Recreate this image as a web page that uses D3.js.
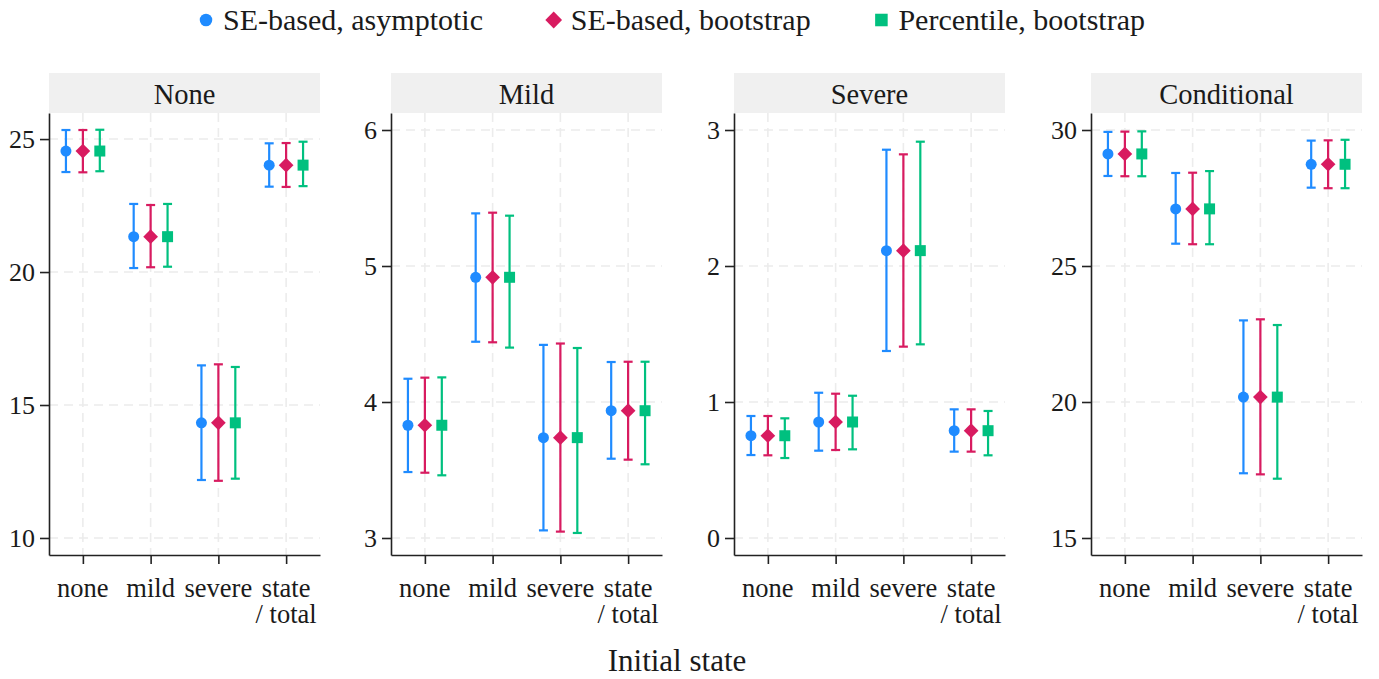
<!DOCTYPE html>
<html>
<head>
<meta charset="utf-8">
<script src="https://cdn.jsdelivr.net/npm/d3@7"></script>
<style>
  body { margin: 0; background: #fff; }
</style>
</head>
<body>
<script>
//categories and labels
var states = ["none", "mild", "severe", "state / total"];
var stateLines = [["none"], ["mild"], ["severe"], ["state", "/ total"]];
var panels = ["None", "Mild", "Severe", "Conditional"];
var methods = ["SE-based, asymptotic", "SE-based, bootstrap", "Percentile, bootstrap"];
var colors = ["#1f8bff", "#d81b60", "#00c07f"];

//y ticks for each panel
var yTicks = [[10, 15, 20, 25], [3, 4, 5, 6], [0, 1, 2, 3], [15, 20, 25, 30]];
var yDomains = [[9.36, 25.98], [2.875, 6.125], [-0.125, 3.125], [14.375, 30.625]];

//point estimates (none, mild, severe, state/total)
var estNone = [24.55, 21.33, 14.33, 24.02];
var estMild = [3.829, 4.917, 3.738, 3.936];
var estSevere = [0.752, 0.853, 2.113, 0.789];
var estCond = [29.12, 27.10, 20.18, 28.74];

//lower limits, one row per method
var loNone = [[23.76, 20.15, 12.18, 23.21], [23.75, 20.18, 12.15, 23.20], [23.79, 20.20, 12.23, 23.23]];
var loMild = [[3.485, 4.443, 3.056, 3.583], [3.480, 4.439, 3.047, 3.576], [3.461, 4.400, 3.037, 3.542]];
var loSevere = [[0.610, 0.642, 1.375, 0.635], [0.608, 0.647, 1.407, 0.635], [0.588, 0.652, 1.424, 0.608]];
var loCond = [[28.31, 25.82, 17.38, 27.88], [28.30, 25.80, 17.34, 27.86], [28.30, 25.80, 17.18, 27.86]];

//upper limits, one row per method
var hiNone = [[25.34, 22.56, 16.49, 24.84], [25.34, 22.52, 16.53, 24.85], [25.35, 22.56, 16.43, 24.90]];
var hiMild = [[4.171, 5.387, 4.420, 4.294], [4.179, 5.392, 4.430, 4.296], [4.181, 5.370, 4.397, 4.296]];
var hiSevere = [[0.897, 1.068, 2.855, 0.946], [0.897, 1.061, 2.821, 0.946], [0.880, 1.046, 2.914, 0.934]];
var hiCond = [[29.93, 28.42, 23.00, 29.61], [29.94, 28.43, 23.04, 29.62], [29.95, 28.49, 22.83, 29.64]];

var estAll = [estNone, estMild, estSevere, estCond];
var loAll = [loNone, loMild, loSevere, loCond];
var hiAll = [hiNone, hiMild, hiSevere, hiCond];

//layout
var width = 1379, height = 679;
var panelLeft = [49, 391, 734, 1091],
    panelWidth = 271,
    stripTop = 73, plotTop = 113, plotBottom = 555;
var legendStart = 206, legendEnd = 1145;
var serif = "'Liberation Serif', 'DejaVu Serif', serif";

var svg = d3.select("body").append("svg")
    .attr("width", width)
    .attr("height", height)
    .style("font-family", serif);

var shapes = [d3.symbolCircle, d3.symbolSquare, d3.symbolSquare];
var sizes = [95, 108, 121];
var rotations = [0, 45, 0];

panels.forEach(function(name, i){
    var left = panelLeft[i];
    var g = svg.append("g").attr("class", "panel");

    var x = d3.scalePoint()
        .domain(states)
        .range([left, left + panelWidth])
        .padding(0.5);
    var y = d3.scaleLinear()
        .domain(yDomains[i])
        .range([plotBottom, plotTop]);

    //grid
    g.selectAll(".hgrid")
        .data(yTicks[i])
        .enter().append("line")
        .attr("x1", left).attr("x2", left + panelWidth)
        .attr("y1", function(d){ return y(d); })
        .attr("y2", function(d){ return y(d); })
        .attr("stroke", "#ececec").attr("stroke-width", 1.6)
        .attr("stroke-dasharray", "9,6");
    g.selectAll(".vgrid")
        .data(states)
        .enter().append("line")
        .attr("x1", function(d){ return x(d); })
        .attr("x2", function(d){ return x(d); })
        .attr("y1", plotTop).attr("y2", plotBottom)
        .attr("stroke", "#ececec").attr("stroke-width", 1.6)
        .attr("stroke-dasharray", "9,6");

    //strip
    g.append("rect")
        .attr("x", left).attr("y", stripTop)
        .attr("width", panelWidth).attr("height", plotTop - stripTop)
        .attr("fill", "#f0f0f0");
    g.append("text")
        .attr("x", left + panelWidth / 2).attr("y", 104)
        .attr("text-anchor", "middle")
        .style("font-family", serif)
        .style("font-size", "28.5px")
        .attr("fill", "#1a1a1a")
        .text(name);

    //axes
    var yAxis = g.append("g")
        .attr("transform", "translate(" + left + ",0)")
        .call(d3.axisLeft(y).tickValues(yTicks[i]).tickFormat(d3.format("d"))
            .tickSize(9).tickSizeOuter(0).tickPadding(5));
    var xAxis = g.append("g")
        .attr("transform", "translate(0," + plotBottom + ")")
        .call(d3.axisBottom(x).tickSize(9).tickSizeOuter(0).tickFormat(""));
    [yAxis, xAxis].forEach(function(a){
        a.attr("font-family", null);
        a.select(".domain").attr("stroke", "#222").attr("stroke-width", 1.6);
        a.selectAll(".tick line").attr("stroke", "#222").attr("stroke-width", 1.6);
    });
    yAxis.selectAll("text")
        .attr("fill", "#1a1a1a")
        .style("font-family", serif)
        .style("font-size", "26px");

    states.forEach(function(s, j){
        var t = g.append("text")
            .attr("text-anchor", "middle")
            .attr("fill", "#1a1a1a")
            .style("font-family", serif)
            .style("font-size", "26.5px");
        stateLines[j].forEach(function(line, k){
            t.append("tspan")
                .attr("x", x(s))
                .attr("y", 597 + k * 26)
                .text(line);
        });
    });

    //error bars and points
    var dodge = x.step() * 0.25;
    methods.forEach(function(m, mi){
        var off = (mi - 1) * dodge;
        var bars = g.append("g").attr("class", "method");
        states.forEach(function(s, j){
            var cx = x(s) + off,
                lo = y(loAll[i][mi][j]),
                hi = y(hiAll[i][mi][j]);
            bars.append("line")
                .attr("x1", cx).attr("x2", cx)
                .attr("y1", lo).attr("y2", hi)
                .attr("stroke", colors[mi]).attr("stroke-width", 2.2);
            [lo, hi].forEach(function(cy){
                bars.append("line")
                    .attr("x1", cx - 4.5).attr("x2", cx + 4.5)
                    .attr("y1", cy).attr("y2", cy)
                    .attr("stroke", colors[mi]).attr("stroke-width", 2.2);
            });
            bars.append("path")
                .attr("d", d3.symbol().type(shapes[mi]).size(sizes[mi])())
                .attr("transform", "translate(" + cx + "," + y(estAll[i][j]) + ") rotate(" + rotations[mi] + ")")
                .attr("fill", colors[mi]);
        });
    });
});

//x axis title
svg.append("text")
    .attr("x", 677).attr("y", 671)
    .attr("text-anchor", "middle")
    .attr("fill", "#1a1a1a")
    .style("font-family", serif)
    .style("font-size", "31px")
    .text("Initial state");

//legend: texts first, then spread items evenly between start and end
var legend = svg.append("g").attr("class", "legend");
var items = methods.map(function(m, mi){
    var item = legend.append("g");
    item.append("path")
        .attr("d", d3.symbol().type(shapes[mi]).size(sizes[mi] * 1.3)())
        .attr("transform", "translate(0,20) rotate(" + rotations[mi] + ")")
        .attr("fill", colors[mi]);
    var t = item.append("text")
        .attr("x", 17).attr("y", 30)
        .attr("fill", "#1a1a1a")
        .style("font-family", serif)
        .style("font-size", "30px")
        .text(m);
    return {g: item, w: 17 + t.node().getComputedTextLength()};
});
var used = d3.sum(items, function(d){ return d.w; });
var gap = (legendEnd - legendStart - used) / (items.length - 1);
var lx = legendStart;
items.forEach(function(d){
    d.g.attr("transform", "translate(" + lx + ",0)");
    lx += d.w + gap;
});
</script>
</body>
</html>
